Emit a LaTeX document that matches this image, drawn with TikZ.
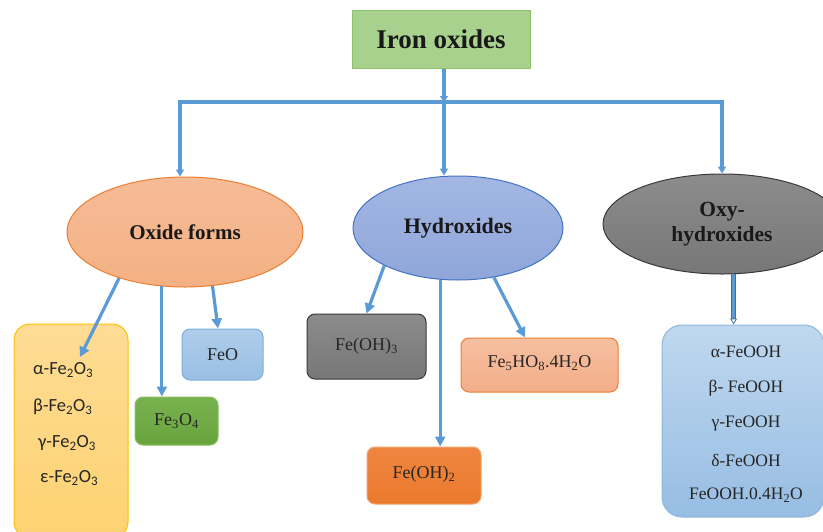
\documentclass[tikz,border=0pt]{standalone}
\usepackage{fontspec}
\setmainfont{Liberation Serif}
\newfontfamily\calfont{Carlito}
\usetikzlibrary{shapes.geometric,arrows.meta}
\newcommand\ssub[1]{\textsubscript{#1}}
\definecolor{connblue}{HTML}{5B9BD5}
\definecolor{darkconn}{HTML}{41719C}
\definecolor{titlefill}{HTML}{A9D18E}
\definecolor{titleline}{HTML}{8CC26A}
\definecolor{salmon}{HTML}{F4B183}
\definecolor{salmontop}{HTML}{F6BB97}
\definecolor{orangeline}{HTML}{ED7D31}
\definecolor{hydrotop}{HTML}{A3B7E2}
\definecolor{hydrobot}{HTML}{8FA6DA}
\definecolor{hydroline}{HTML}{4472C4}
\definecolor{graytop}{HTML}{8C8C8C}
\definecolor{graybot}{HTML}{777777}
\definecolor{grayline}{HTML}{3A3A3A}
\definecolor{yeltop}{HTML}{FEDC94}
\definecolor{yelbot}{HTML}{FDD271}
\definecolor{yelline}{HTML}{FFC000}
\definecolor{feotop}{HTML}{AFCDEB}
\definecolor{feobot}{HTML}{99BFE4}
\definecolor{feoline}{HTML}{7FAEDC}
\definecolor{greentop}{HTML}{78B24F}
\definecolor{greenbot}{HTML}{68A43E}
\definecolor{greenline}{HTML}{8ABF66}
\definecolor{orgtop}{HTML}{EE8540}
\definecolor{orgbot}{HTML}{EB7A2C}
\definecolor{orgline}{HTML}{F3A36E}
\definecolor{fefivetop}{HTML}{F6BFA0}
\definecolor{fefivebot}{HTML}{F3AE89}
\definecolor{rtop}{HTML}{BFD8EF}
\definecolor{rbot}{HTML}{97BDE3}
\definecolor{rline}{HTML}{8DB7E0}
\begin{document}
\begin{tikzpicture}[x=1pt,y=-1pt,
  conn/.style={draw=connblue, line width=3.2pt, -{Triangle[length=10pt,width=10pt]}},
  busline/.style={draw=connblue, line width=3.2pt, line join=miter,
     {Triangle[length=7pt,width=8pt]}-{Triangle[length=7pt,width=8pt]}},
  ell/.style={ellipse, inner sep=0pt, line width=1pt, align=center, text=black!90},
  boxnode/.style={rectangle, rounded corners=8pt, line width=1pt, inner sep=0pt,
     text=black!85, font=\fontsize{18}{20}\selectfont},
  lbl/.style={inner sep=0pt, text=black!85},
]
\useasboundingbox (0,0) rectangle (823,531);

% title
\node[rectangle, fill=titlefill, draw=titleline, line width=1pt,
      minimum width=178pt, minimum height=58pt, inner sep=0pt,
      font=\fontsize{27}{30}\selectfont\bfseries, text=black!90]
      (title) at (441,39) {Iron oxides};

% ellipses
\node[ell, top color=salmontop, bottom color=salmon, draw=orangeline,
      minimum width=236pt, minimum height=110pt,
      font=\fontsize{21}{23}\selectfont\bfseries] (oxide) at (185,232) {Oxide forms};
\node[ell, top color=hydrotop, bottom color=hydrobot, draw=hydroline,
      minimum width=210pt, minimum height=104pt,
      font=\fontsize{22}{24}\selectfont\bfseries] (hydro) at (458,228) {Hydroxides};
\node[ell, top color=graytop, bottom color=graybot, draw=grayline,
      minimum width=238pt, minimum height=100pt,
      font=\fontsize{21.5}{25}\selectfont\bfseries] (oxy) at (722,224) {Oxy-\\hydroxides};

% bus
\coordinate (busL) at (180,102);
\coordinate (busM) at (444,102);
\coordinate (busR) at (722,102);
\draw[busline] (busL |- oxide.north) -- (busL) -- (busR) -- (busR |- oxy.north);
\draw[draw=connblue, line width=3.2pt, -{Triangle[length=6pt,width=8pt]}]
      (busM |- title.south) -- (busM);
\draw[draw=connblue, line width=3.2pt, -{Triangle[length=7pt,width=8pt]}]
      (busM) -- (busM |- hydro.north);

% oxide children
\node[rectangle, rounded corners=16pt, top color=yeltop, bottom color=yelbot,
      draw=yelline, line width=1pt, minimum width=114pt, minimum height=214pt,
      inner sep=0pt] (ybox) at (71,431) {};
\node[lbl, anchor=west, font=\calfont\fontsize{18.5}{20}\selectfont] (ya) at (33,370) {α-Fe\ssub{2}O\ssub{3}};
\node[lbl, anchor=west, font=\calfont\fontsize{18.5}{20}\selectfont] (yb) at (33,407) {β-Fe\ssub{2}O\ssub{3}};
\node[lbl, anchor=west, font=\calfont\fontsize{18.5}{20}\selectfont] (yc) at (38,443) {γ-Fe\ssub{2}O\ssub{3}};
\node[lbl, anchor=west, font=\calfont\fontsize{18.5}{20}\selectfont] (yd) at (40,478) {ε-Fe\ssub{2}O\ssub{3}};

\node[boxnode, top color=feotop, bottom color=feobot, draw=feoline,
      minimum width=81pt, minimum height=51pt] (feo) at (222.5,354.5) {FeO};
\node[boxnode, top color=greentop, bottom color=greenbot, draw=greenline,
      minimum width=83pt, minimum height=48pt] (fe3o4) at (176.5,421) {Fe\ssub{3}O\ssub{4}};

\coordinate (yin) at (80,357);
\draw[conn] (oxide.215) -- (yin);
\draw[conn] (oxide.247) -- (fe3o4.north -| oxide.247);
\draw[conn] (oxide.297) -- ([xshift=-4.5pt]feo.north);

% hydroxide children
\node[boxnode, top color=graytop, bottom color=graybot, draw=grayline,
      minimum width=119pt, minimum height=65pt] (feoh3) at (366.5,346.5)
      {\raisebox{4pt}{Fe(OH)\ssub{3}}};
\node[boxnode, top color=orgtop, bottom color=orgbot, draw=orgline,
      minimum width=114pt, minimum height=57pt] (feoh2) at (424,475.5)
      {\raisebox{6pt}{Fe(OH)\ssub{2}}};
\node[boxnode, top color=fefivetop, bottom color=fefivebot, draw=orangeline,
      minimum width=157pt, minimum height=54pt] (fe5) at (539.5,365)
      {\raisebox{6pt}{Fe\ssub{5}HO\ssub{8}.4H\ssub{2}O}};

\draw[conn] (hydro.207) -- (feoh3.north);
\draw[conn] (hydro.251) -- (feoh2.north -| hydro.251);
\draw[conn] (hydro.306) -- ([xshift=-14.5pt]fe5.north);

% oxy-hydroxide children
\node[rectangle, rounded corners=20pt, top color=rtop, bottom color=rbot,
      draw=rline, line width=1pt, minimum width=162pt, minimum height=192pt,
      inner sep=0pt] (rbox) at (743,421) {};
\node[lbl, font=\fontsize{17.5}{19}\selectfont] (ra) at (746,352) {α-FeOOH};
\node[lbl, font=\fontsize{17.5}{19}\selectfont] (rb) at (746,388) {β- FeOOH};
\node[lbl, font=\fontsize{17.5}{19}\selectfont] (rc) at (746,424) {γ-FeOOH};
\node[lbl, font=\fontsize{17.5}{19}\selectfont] (rd) at (746,460) {δ-FeOOH};
\node[lbl, font=\fontsize{17.5}{19}\selectfont] (re) at (746,495) {FeOOH.0.4H\ssub{2}O};

\draw[draw=darkconn, line width=4.4pt] (oxy.283) -- ([yshift=6pt]rbox.north -| oxy.283);
\draw[draw=connblue, line width=2.4pt] (oxy.283) -- ([yshift=6pt]rbox.north -| oxy.283);
\draw[draw=darkconn, line width=0.8pt, -{Triangle[length=6pt,width=7pt,open]}]
      ([yshift=7pt]rbox.north -| oxy.283) -- (rbox.north -| oxy.283);
\end{tikzpicture}
\end{document}
